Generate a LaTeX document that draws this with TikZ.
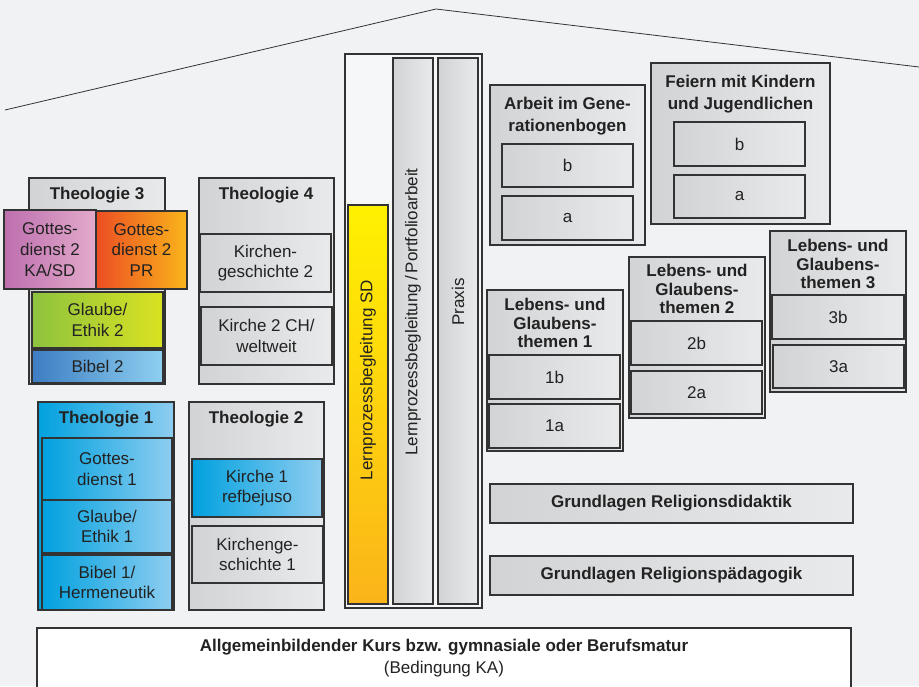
\documentclass[tikz,border=0pt]{standalone}
\usepackage{fontspec}
\setmainfont{Liberation Sans}
\definecolor{bg}{HTML}{F1F2F4}
\definecolor{colbg}{HTML}{F6F7F8}
\definecolor{frame}{HTML}{333333}
\definecolor{txt}{HTML}{222222}
\definecolor{grL}{HTML}{D2D3D5}
\definecolor{grR}{HTML}{E9EAEC}
\definecolor{mgL}{HTML}{BD6FAE}
\definecolor{mgR}{HTML}{E3AACB}
\definecolor{orL}{HTML}{EC4E23}
\definecolor{orR}{HTML}{F9B51B}
\definecolor{gnL}{HTML}{8DC33F}
\definecolor{gnR}{HTML}{DAE221}
\definecolor{blL}{HTML}{3E7DC2}
\definecolor{blR}{HTML}{8DD0F1}
\definecolor{cyL}{HTML}{00A1DF}
\definecolor{cyR}{HTML}{8ECDF0}
\definecolor{ylT}{HTML}{FFF100}
\definecolor{ylB}{HTML}{FBB41A}
\newcommand\fsn{\fontsize{17}{20.7}\selectfont}
\newcommand\fsh{\fontsize{17}{18.5}\selectfont\bfseries}
\newcommand\fshw{\fontsize{17}{21.7}\selectfont\bfseries}
\newcommand\bxc[7]{%
  \pgfmathsetmacro\bw{#5-#3}\pgfmathsetmacro\bh{#6-#4}%
  \node[#1,minimum width=\bw pt,minimum height=\bh pt] (#2) at ({(#3+#5)/2},{(#4+#6)/2}) {#7};}
\tikzset{
  box/.style={draw=frame, line width=1.1pt, inner sep=0pt, align=center, text=txt, font=\fsn},
  graybox/.style={box, left color=grL, right color=grR},
  magbox/.style={box, left color=mgL, right color=mgR},
  orbox/.style={box, left color=orL, right color=orR},
  grnbox/.style={box, left color=gnL, right color=gnR},
  bluebox/.style={box, left color=blL, right color=blR},
  cyanbox/.style={box, left color=cyL, right color=cyR},
  yelbox/.style={box, top color=ylT, bottom color=ylB},
  plainbox/.style={box, fill=#1},
  hdr/.style={inner sep=0pt, align=center, text=txt, font=\fsh},
  hdrwide/.style={inner sep=0pt, align=center, text=txt, font=\fshw},
  lbl/.style={inner sep=0pt, align=center, text=txt, font=\fsn},
  roof/.style={draw=frame, line width=0.8pt}
}
\begin{document}
\begin{tikzpicture}[x=1pt,y=-1pt]
\useasboundingbox (0,0) rectangle (919,686);
\fill[bg] (0,0) rectangle (919,686);
% roof
\coordinate (rl) at (5,110);
\coordinate (rt) at (436,9);
\coordinate (rr) at (919,67);
\draw[roof] (rl) -- (rt) -- (rr);

% Theologie 3
\bxc{graybox}{t3}{29}{178}{165}{384}{}
\node[hdr] (t3h) at (97,195) {Theologie 3};
\bxc{magbox}{gd2ka}{4}{210}{96}{289}{Gottes-\\dienst 2\\KA/SD}
\bxc{orbox}{gd2pr}{96}{211}{187}{289}{Gottes-\\dienst 2\\PR}
\bxc{grnbox}{ge2}{32}{292}{163}{348}{Glaube/\\Ethik 2}
\bxc{bluebox}{bi2}{32}{350}{163}{383}{Bibel 2}

% Theologie 4
\bxc{graybox}{t4}{199}{178}{334}{384}{}
\node[hdr] (t4h) at (266,195) {Theologie 4};
\bxc{graybox}{kg2}{200}{234}{331}{292}{Kirchen-\\geschichte 2}
\bxc{graybox}{k2}{201}{307}{332}{365}{Kirche 2 CH/\\weltweit}

% Theologie 1
\bxc{cyanbox}{t1}{38}{402}{174}{610}{}
\node[hdr] (t1h) at (106,419) {Theologie 1};
\bxc{cyanbox}{gd1}{42}{438}{172}{500}{Gottes-\\dienst 1}
\bxc{cyanbox}{ge1}{42}{500}{172}{553}{Glaube/\\Ethik 1}
\bxc{cyanbox}{bi1}{42}{555}{172}{610}{Bibel 1/\\Hermeneutik}

% Theologie 2
\bxc{graybox}{t2}{189}{402}{324}{610}{}
\node[hdr] (t2h) at (256,419) {Theologie 2};
\bxc{cyanbox}{k1}{192}{459}{322}{517}{Kirche 1\\refbejuso}
\bxc{graybox}{kg1}{192}{526}{323}{583}{Kirchenge-\\schichte 1}

% Lernprozess column
\bxc{plainbox=colbg}{lp}{345}{54}{482}{608}{}
\bxc{yelbox}{lpsd}{348}{205}{388}{604}{}
\node[lbl, rotate=90] (lpsdt) at (368,380) {Lernprozessbegleitung SD};
\bxc{graybox}{lppf}{393}{58}{433}{604}{}
\node[lbl, rotate=90] (lppft) at (413,312) {Lernprozessbegleitung\,/\,Portfolioarbeit};
\bxc{graybox}{prx}{438}{58}{478}{604}{}
\node[lbl, rotate=90] (prxt) at (458,302) {Praxis};

% Arbeit im Generationenbogen
\bxc{graybox}{agb}{490}{85}{645}{245}{}
\node[hdrwide] (agbh) at (567.5,116) {Arbeit im Gene-\\rationenbogen};
\bxc{graybox}{agbb}{502}{144}{633}{187}{b}
\bxc{graybox}{agba}{502}{196}{633}{240}{a}

% Feiern mit Kindern
\bxc{graybox}{fk}{651}{63}{830}{224}{}
\node[hdrwide] (fkh) at (740.5,94) {Feiern mit Kindern\\und Jugendlichen};
\bxc{graybox}{fkb}{674}{122}{805}{166}{b}
\bxc{graybox}{fka}{674}{175}{805}{218}{a}

% Lebens- und Glaubensthemen 1
\bxc{graybox}{lg1}{487}{290}{623}{451}{}
\node[hdr] (lg1h) at (555,323) {Lebens- und\\Glaubens-\\themen 1};
\bxc{graybox}{lg1b}{489}{355}{620}{399}{1b}
\bxc{graybox}{lg1a}{489}{404}{620}{448}{1a}

% Lebens- und Glaubensthemen 2
\bxc{graybox}{lg2}{629}{257}{765}{418}{}
\node[hdr] (lg2h) at (697,289) {Lebens- und\\Glaubens-\\themen 2};
\bxc{graybox}{lg2b}{631}{321}{762}{365}{2b}
\bxc{graybox}{lg2a}{631}{371}{762}{414}{2a}

% Lebens- und Glaubensthemen 3
\bxc{graybox}{lg3}{770}{231}{906}{392}{}
\node[hdr] (lg3h) at (838,264) {Lebens- und\\Glaubens-\\themen 3};
\bxc{graybox}{lg3b}{772}{295}{904}{339}{3b}
\bxc{graybox}{lg3a}{773}{345}{904}{388}{3a}

% Grundlagen
\bxc{graybox}{grd}{490}{484}{853}{523}{\fsh Grundlagen Religionsdidaktik}
\bxc{graybox}{grp}{490}{556}{853}{595}{\fsh Grundlagen Religionspädagogik}

% Bottom
\bxc{plainbox=white}{base}{37}{628}{851}{692}{}
\node[hdr] (baset) at (444,647) {Allgemeinbildender Kurs bzw. gymnasiale oder Berufsmatur};
\node[lbl] (baset2) at (444,669) {(Bedingung KA)};
\end{tikzpicture}
\end{document}
